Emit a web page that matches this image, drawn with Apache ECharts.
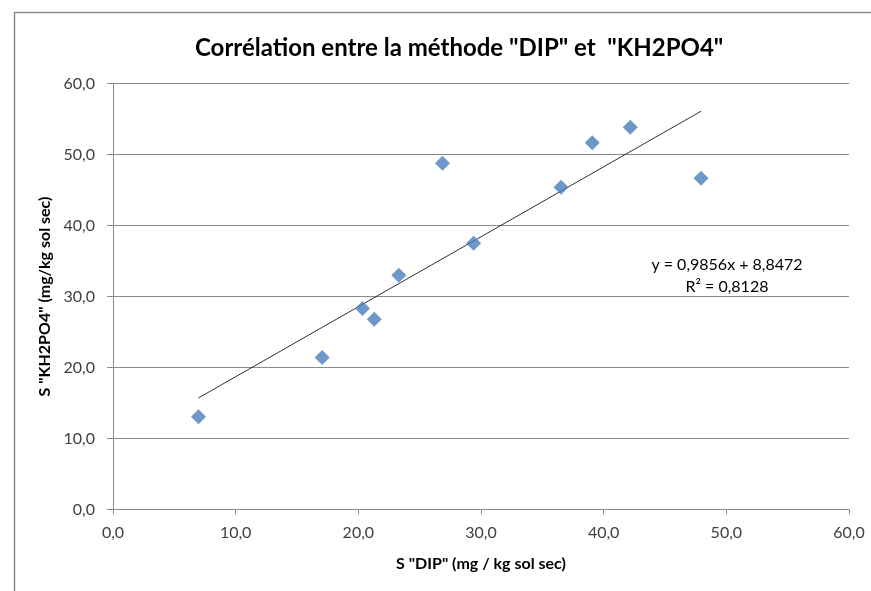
<!DOCTYPE html>
<html>
<head>
<meta charset="utf-8">
<script src="https://cdn.jsdelivr.net/npm/echarts@6/dist/echarts.min.js"></script>
<style>
html,body{margin:0;padding:0;background:#fff;}
#chart{width:871px;height:591px;}
</style>
</head>
<body>
<div id="chart"></div>
<script>
// Data
var dipValues = [6.97, 17.05, 20.34, 21.3, 23.3, 26.86, 29.4, 36.52, 39.07, 42.17, 47.94];
var kh2po4Values = [13.07, 21.4, 28.3, 26.8, 32.98, 48.76, 37.5, 45.37, 51.67, 53.84, 46.64];
var trendSlope = [0.9856];
var trendIntercept = [8.8472];
var rSquared = [0.8128];
var axisTicks = [0, 10, 20, 30, 40, 50, 60];

var titleText = 'Corrélation entre la méthode "DIP" et  "KH2PO4"';
var xTitle = 'S "DIP" (mg / kg sol sec)';
var yTitle = 'S "KH2PO4" (mg/kg sol sec)';

function fr(v, d) { return v.toFixed(d).replace('.', ','); }

var points = dipValues.map(function (x, i) { return [x, kh2po4Values[i]]; });
var xMin = Math.min.apply(null, dipValues), xMax = Math.max.apply(null, dipValues);
var trend = [[xMin, trendSlope[0] * xMin + trendIntercept[0]], [xMax, trendSlope[0] * xMax + trendIntercept[0]]];

var FONT = 'Lato, "Open Sans", sans-serif';
var gridColor = '#8a8a8a';

var chart = echarts.init(document.getElementById('chart'), null, {renderer: 'canvas'});
chart.setOption({
  animation: false,
  backgroundColor: '#fff',
  title: {
    text: titleText,
    left: 190,
    top: 31,
    textStyle: {fontFamily: FONT, fontWeight: 'bold', fontSize: 24, color: '#000'}
  },
  grid: {left: 113, right: 22, top: 83.5, bottom: 81.5, containLabel: false},
  xAxis: {
    type: 'value',
    min: axisTicks[0], max: axisTicks[axisTicks.length - 1], interval: 10,
    name: xTitle, nameLocation: 'middle', nameGap: 46,
    nameTextStyle: {fontFamily: FONT, fontWeight: 'bold', fontSize: 16, color: '#000'},
    axisLine: {lineStyle: {color: gridColor, width: 1}},
    axisTick: {show: true, length: 5, lineStyle: {color: gridColor}},
    axisLabel: {fontFamily: FONT, fontSize: 16, color: '#404040', margin: 15, formatter: function (v) { return fr(v, 1); }},
    splitLine: {show: false}
  },
  yAxis: {
    type: 'value',
    min: axisTicks[0], max: axisTicks[axisTicks.length - 1], interval: 10,
    name: yTitle, nameLocation: 'middle', nameGap: 56, nameRotate: 90,
    nameTextStyle: {fontFamily: FONT, fontWeight: 'bold', fontSize: 16, color: '#000'},
    axisLine: {show: true, lineStyle: {color: gridColor, width: 1}},
    axisTick: {show: true, length: 6, lineStyle: {color: gridColor}},
    axisLabel: {fontFamily: FONT, fontSize: 16, color: '#404040', margin: 18, formatter: function (v) { return fr(v, 1); }},
    splitLine: {show: true, lineStyle: {color: gridColor, width: 1}}
  },
  series: [
    {
      type: 'line',
      data: trend,
      showSymbol: false,
      symbol: 'none',
      lineStyle: {color: '#1a1a1a', width: 0.9},
      z: 2
    },
    {
      type: 'scatter',
      data: points,
      symbol: 'diamond',
      symbolSize: [15, 15],
      itemStyle: {color: '#4A7EBB'},
      z: 3
    }
  ],
  graphic: [
    {
      type: 'rect',
      shape: {x: 14.5, y: 12.5, width: 1000, height: 1000},
      style: {fill: 'none', stroke: '#8a8a8a', lineWidth: 1.5},
      silent: true, z: 0
    },
    {
      type: 'text', x: 727, y: 265,
      style: {text: 'y = ' + fr(trendSlope[0], 4) + 'x + ' + fr(trendIntercept[0], 4), fontFamily: FONT, fontSize: 16, fill: '#000', textAlign: 'center', textVerticalAlign: 'middle'}
    },
    {
      type: 'text', x: 727, y: 287,
      style: {text: 'R² = ' + fr(rSquared[0], 4), fontFamily: FONT, fontSize: 16, fill: '#000', textAlign: 'center', textVerticalAlign: 'middle'}
    }
  ]
});
</script>
</body>
</html>
